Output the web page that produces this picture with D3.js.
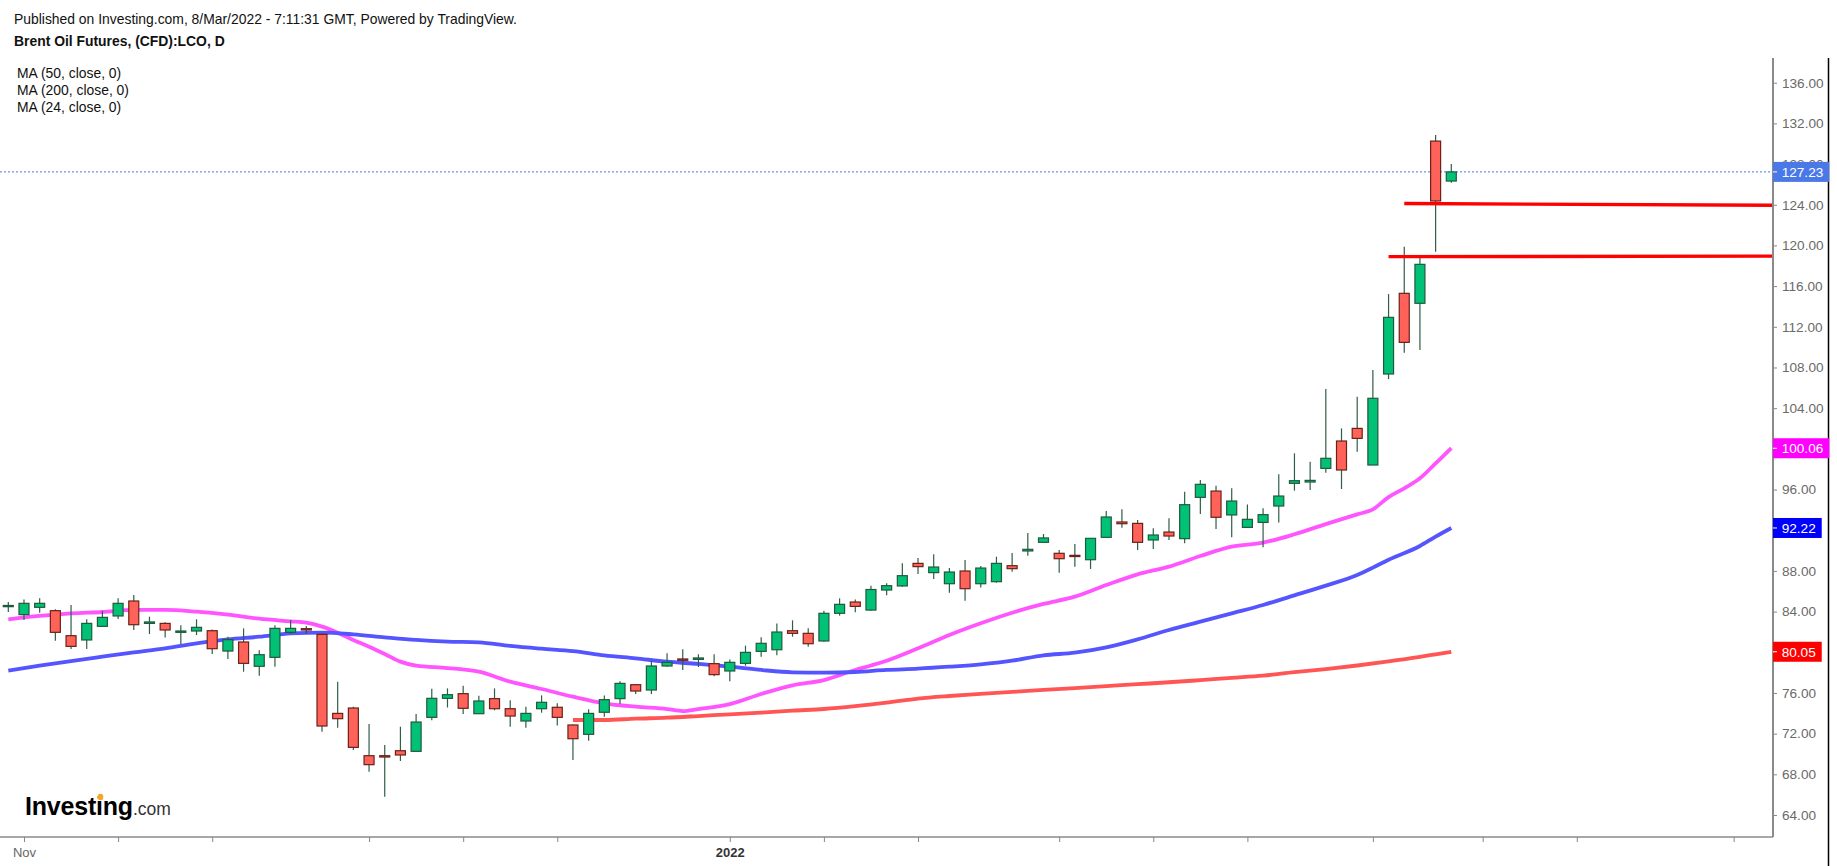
<!DOCTYPE html>
<html>
<head>
<meta charset="utf-8">
<script src="https://cdn.jsdelivr.net/npm/d3@7"></script>
<style>
  body { margin: 0; background: #fff; }
  text { font-family: "Liberation Sans", Arial, sans-serif; }
</style>
</head>
<body>
<div id="chart"></div>
<script>
// Brent daily candles (index 0 = first visible session)
var opens = [84.50,83.70,84.42,84.09,81.63,81.21,82.55,83.57,85.04,82.84,
  82.84,81.96,82.09,82.12,80.12,81.01,78.62,79.50,81.96,82.32,
  81.76,73.99,74.52,69.83,69.83,70.32,70.26,73.60,75.47,75.93,
  73.96,75.44,74.45,73.24,74.45,74.59,72.85,71.93,74.10,75.44,
  76.81,76.29,78.65,79.34,79.30,78.88,78.16,78.91,80.09,80.25,
  82.12,81.86,81.11,83.83,84.94,84.15,86.12,86.52,88.74,87.83,
  86.74,87.99,86.74,86.94,88.51,89.96,90.81,89.73,89.53,89.10,
  91.30,92.81,92.67,91.04,91.82,91.17,95.23,95.85,93.50,92.28,
  92.77,94.38,96.61,96.74,98.08,100.77,102.01,98.41,107.36,115.29,
  114.31,130.26,126.33];
var highs = [84.94,85.20,85.30,84.22,84.65,83.24,84.06,85.30,85.63,83.50,
  82.94,82.65,83.24,82.25,81.53,82.35,80.19,82.65,83.17,82.58,
  81.86,77.11,74.65,72.95,70.88,72.68,73.93,76.42,76.45,76.71,
  75.73,76.45,75.27,74.65,75.76,74.98,72.91,74.39,75.76,77.14,
  76.88,79.17,79.90,80.29,79.80,79.80,79.30,80.65,81.47,82.84,
  83.14,82.35,84.09,85.30,85.20,86.55,86.78,88.74,89.27,89.63,
  88.28,89.07,88.48,89.40,89.76,91.73,91.63,90.05,90.65,91.20,
  93.89,94.05,93.00,92.19,93.17,95.79,96.94,96.38,96.12,94.54,
  94.15,97.50,99.56,98.74,105.88,102.01,105.13,107.75,115.22,119.88,
  119.06,130.86,128.00];
var lows = [83.96,83.17,83.89,81.14,80.32,80.32,82.50,83.27,82.19,81.80,
  81.44,80.81,81.70,79.83,79.34,78.09,77.70,78.58,81.80,81.80,
  72.19,72.59,70.39,68.26,65.80,69.31,70.26,73.31,74.57,73.93,
  73.93,74.29,72.68,72.59,74.06,72.81,69.41,71.31,73.67,74.91,
  75.90,75.90,78.58,78.26,78.55,77.63,77.14,78.68,79.57,79.70,
  81.53,80.55,81.04,83.60,83.93,84.09,85.60,86.45,87.70,87.20,
  85.86,85.07,86.38,86.84,87.92,89.50,90.81,87.83,88.42,88.19,
  91.30,92.25,90.05,90.15,91.04,90.71,93.59,92.12,91.30,92.28,
  90.32,92.77,95.89,95.95,97.66,96.05,99.72,98.41,106.86,109.45,
  109.72,119.38,126.17];
var closes = [84.60,84.81,84.81,81.96,80.58,82.84,83.43,84.81,82.71,82.98,
  82.19,82.09,82.45,80.35,81.24,78.91,79.76,82.35,82.35,82.19,
  72.75,73.47,70.65,68.95,69.70,69.90,73.14,75.47,75.83,74.49,
  75.21,74.45,73.73,73.99,75.08,73.60,71.50,73.99,75.34,76.94,
  76.19,78.65,79.01,79.21,79.44,77.80,79.01,79.99,80.88,81.99,
  81.86,80.84,83.83,84.71,84.51,86.17,86.55,87.53,88.42,88.38,
  87.89,86.25,88.28,88.74,88.22,90.12,91.24,89.20,89.43,91.20,
  93.30,92.64,90.81,91.53,91.43,94.51,96.51,93.27,94.87,93.07,
  93.53,95.36,96.87,96.90,99.07,97.92,101.03,104.97,112.93,110.47,
  118.14,124.37,127.23];

// moving averages, [candle index, value]
var ma24 = [[0,83.24],[2,83.57],[4,83.83],[6,83.96],[8,84.16],[10,84.16],[12,83.99],[14,83.70],
  [16,83.30],[18,83.04],[19,82.91],[20,82.52],[21,81.93],[22,81.21],[23,80.55],[24,79.83],
  [25,79.08],[26,78.68],[28,78.45],[30,78.09],[32,77.11],[34,76.39],[36,75.63],[38,74.98],
  [40,74.65],[42,74.42],[43,74.22],[44,74.42],[46,74.91],[48,75.90],[50,76.75],[52,77.27],
  [54,78.26],[55,78.70],[56,79.17],[58,80.39],[60,81.70],[62,82.85],[64,83.89],[66,84.75],
  [68,85.47],[70,86.61],[72,87.66],[74,88.42],[76,89.46],[78,90.38],[80,90.78],[82,91.60],
  [84,92.60],[86,93.56],[87,94.05],[88,95.25],[89,96.12],[90,97.10],[91,98.58],[92,100.06]];
var ma50 = [[0,78.19],[2,78.68],[4,79.14],[6,79.57],[8,79.99],[10,80.39],[12,80.88],[14,81.27],
  [16,81.53],[18,81.86],[20,81.93],[22,81.76],[24,81.47],[26,81.21],[28,81.05],[30,80.98],
  [32,80.62],[34,80.35],[36,80.12],[38,79.70],[40,79.40],[42,79.07],[44,78.85],[46,78.58],
  [48,78.26],[50,78.03],[52,77.99],[54,78.06],[56,78.26],[58,78.39],[60,78.58],[62,78.81],
  [64,79.17],[66,79.70],[68,79.96],[70,80.48],[72,81.27],[74,82.19],[76,83.01],[78,83.83],
  [80,84.65],[82,85.60],[84,86.55],[86,87.60],[87,88.32],[88,89.10],[90,90.45],[91,91.37],[92,92.22]];
var ma200 = [[36,73.34],[38,73.34],[40,73.47],[42,73.57],[44,73.73],[46,73.90],[48,74.06],
  [50,74.26],[52,74.42],[54,74.70],[56,75.05],[58,75.45],[60,75.70],[62,75.90],[64,76.10],
  [66,76.30],[68,76.48],[70,76.67],[72,76.86],[74,77.05],[76,77.26],[78,77.48],[80,77.70],
  [82,78.05],[84,78.35],[86,78.70],[88,79.10],[90,79.55],[91,79.80],[92,80.05]];

var maColors = ["#ff55ff", "#5555ff", "#ff5555"];
var maLast = [100.06, 92.22, 80.05];
var maBoxColors = ["#ff00ff", "#0000ff", "#ff0000"];
var lastPrice = 127.23;

// hand drawn support lines: start index, end index, price at start, price at end
var levelFrom = [89, 88];
var levelTo = [112.5, 112.5];
var levelP0 = [124.12, 118.90];
var levelP1 = [123.95, 118.95];

var priceTicks = [64, 68, 72, 76, 80, 84, 88, 92, 96, 100, 104, 108, 112, 116, 120, 124, 128, 132, 136];
var timeTickIdx = [1, 7, 13, 23, 29, 35, 46, 52, 58, 67, 73, 79, 87, 94, 100, 110];
var timeTickLabels = ["Nov", "", "", "", "", "", "2022", "", "", "", "", "", "", "", "", ""];

var headerTexts = ["MA (50, close, 0)", "MA (200, close, 0)", "MA (24, close, 0)"];

var width = 1837, height = 866;
var plotRight = 1773, plotTop = 58, plotBottom = 837;

var svg = d3.select("#chart").append("svg").attr("width", width).attr("height", height)
  .style("background", "#fff");

// scales
var x = d3.scaleLinear().domain([0, 92]).range([8.3, 1451.3]);
var y = d3.scaleLinear().domain([64, 136]).range([815, 82.7]);

// header
svg.append("text").attr("x", 14).attr("y", 23.5).attr("font-size", "13.9px").attr("fill", "#111")
  .text("Published on Investing.com, 8/Mar/2022 - 7:11:31 GMT, Powered by TradingView.");
svg.append("text").attr("x", 14).attr("y", 46).attr("font-size", "13.9px").attr("font-weight", "bold")
  .attr("fill", "#111").text("Brent Oil Futures, (CFD):LCO, D");
svg.selectAll(".ma-label").data(headerTexts).enter().append("text")
  .attr("class", "ma-label")
  .attr("x", 17).attr("y", function (d, i) { return 78 + i * 17; })
  .attr("font-size", "13.9px").attr("fill", "#111")
  .text(function (d) { return d; });

// moving averages
var maLine = d3.line().x(function (d) { return x(d[0]); }).y(function (d) { return y(d[1]); })
  .curve(d3.curveMonotoneX);
[ma24, ma50, ma200].forEach(function (ma, k) {
  svg.append("path").attr("d", maLine(ma)).attr("fill", "none")
    .attr("stroke", maColors[k]).attr("stroke-width", 3.8).attr("stroke-linejoin", "round");
});

// last price dotted line
svg.append("line").attr("x1", 0).attr("x2", plotRight)
  .attr("y1", y(lastPrice)).attr("y2", y(lastPrice))
  .attr("stroke", "#4a78e6").attr("stroke-width", 1).attr("stroke-dasharray", "2,2");

// candles
var idx = d3.range(closes.length);
var candles = svg.append("g");
candles.selectAll(".wick").data(idx).enter().append("line")
  .attr("x1", function (i) { return x(i); }).attr("x2", function (i) { return x(i); })
  .attr("y1", function (i) { return y(highs[i]); }).attr("y2", function (i) { return y(lows[i]); })
  .attr("stroke", "#2f5e46").attr("stroke-width", 1.2);
candles.selectAll(".body").data(idx).enter().append("rect")
  .attr("x", function (i) { return x(i) - 5; })
  .attr("width", 10)
  .attr("y", function (i) { return y(Math.max(opens[i], closes[i])); })
  .attr("height", function (i) { return Math.max(1.2, Math.abs(y(opens[i]) - y(closes[i]))); })
  .attr("fill", function (i) { return closes[i] >= opens[i] ? "#00c176" : "#ff6259"; })
  .attr("stroke", function (i) { return closes[i] >= opens[i] ? "#1f5a3c" : "#6b2119"; })
  .attr("stroke-width", 1.2);

// support lines
svg.selectAll(".level").data(levelFrom).enter().append("line")
  .attr("x1", function (d) { return x(d); })
  .attr("x2", function (d, i) { return x(levelTo[i]); })
  .attr("y1", function (d, i) { return y(levelP0[i]); })
  .attr("y2", function (d, i) { return y(levelP1[i]); })
  .attr("stroke", "#ff0000").attr("stroke-width", 3.4);

// price axis
var yAxis = d3.axisRight(y).tickValues(priceTicks).tickFormat(d3.format(".2f")).tickSize(4).tickPadding(5);
var yg = svg.append("g").attr("transform", "translate(" + plotRight + ",0)").call(yAxis);
yg.select(".domain").remove();
yg.selectAll(".tick line").attr("stroke", "#888");
yg.selectAll(".tick text").attr("fill", "#6a6a6a").style("font-size", "13.6px")
  .style("font-family", "'Liberation Sans', Arial, sans-serif");
svg.append("line").attr("x1", plotRight).attr("x2", plotRight).attr("y1", plotTop).attr("y2", plotBottom)
  .attr("stroke", "#8a8a8a").attr("stroke-width", 2);
svg.append("line").attr("x1", 1828.5).attr("x2", 1828.5).attr("y1", plotTop).attr("y2", height)
  .attr("stroke", "#000").attr("stroke-width", 1.5);

// time axis
var xAxis = d3.axisBottom(x).tickValues(timeTickIdx)
  .tickFormat(function (d, i) { return timeTickLabels[i]; }).tickSize(5).tickPadding(6);
var xg = svg.append("g").attr("transform", "translate(0," + plotBottom + ")").call(xAxis);
xg.select(".domain").remove();
xg.selectAll(".tick line").attr("stroke", "#888");
xg.selectAll(".tick text").style("font-size", "13px")
  .style("font-family", "'Liberation Sans', Arial, sans-serif")
  .attr("fill", function (d, i) { return timeTickLabels[i] === "2022" ? "#333" : "#666"; })
  .attr("font-weight", function (d, i) { return timeTickLabels[i] === "2022" ? "bold" : "normal"; });
svg.append("line").attr("x1", 0).attr("x2", plotRight).attr("y1", plotBottom).attr("y2", plotBottom)
  .attr("stroke", "#8a8a8a").attr("stroke-width", 1.5);

// value boxes on the price axis
var boxVals = [lastPrice].concat(maLast);
var boxCols = ["#4a78e6"].concat(maBoxColors);
boxVals.forEach(function (v, k) {
  var g = svg.append("g");
  var r = g.append("rect").attr("x", plotRight).attr("y", y(v) - 10).attr("height", 20)
    .attr("fill", boxCols[k]);
  g.append("line").attr("x1", plotRight).attr("x2", plotRight + 4).attr("y1", y(v)).attr("y2", y(v))
    .attr("stroke", "#fff");
  var t = g.append("text").attr("x", plotRight + 8.7).attr("y", y(v)).attr("dy", "0.35em")
    .attr("font-size", "13.6px").attr("fill", "#fff").text(v.toFixed(2));
  r.attr("width", t.node().getComputedTextLength() + 14.7);
});

// Investing.com logo
var logo = svg.append("text").attr("x", 25).attr("y", 815).attr("fill", "#000");
logo.append("tspan").attr("font-size", "25px").attr("font-weight", "bold")
  .attr("letter-spacing", "-0.2px").text("Investing");
logo.append("tspan").attr("font-size", "17.5px").attr("fill", "#333").text(".com");
svg.append("ellipse").attr("cx", 100.5).attr("cy", 797).attr("rx", 2.8).attr("ry", 3.2)
  .attr("fill", "#f5a623");
</script>
</body>
</html>
